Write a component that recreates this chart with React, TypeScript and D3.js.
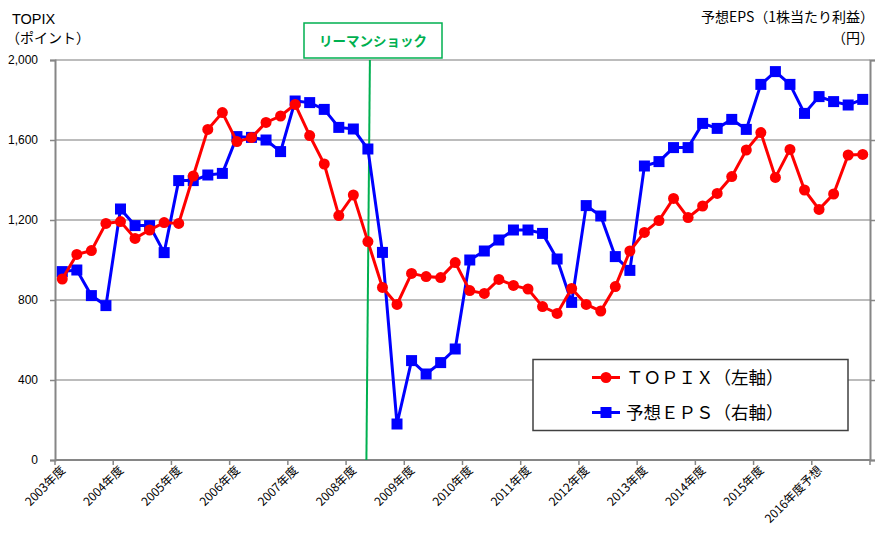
import React, { useRef, useEffect } from "react";
import * as d3 from "d3";

// quarterly values, FY2003 Q1 .. FY2016 Q4 (forecast)
const topix = [
  905, 1028, 1047, 1183, 1192, 1108, 1150, 1187, 1183, 1420, 1653, 1737, 1592, 1612, 1688, 1720,
  1778, 1622, 1480, 1222, 1325, 1092, 863, 778, 933, 917, 912, 987, 847, 833, 903, 873,
  855, 767, 733, 858, 778, 745, 867, 1045, 1138, 1197, 1308, 1212, 1270, 1333, 1417, 1550,
  1637, 1413, 1553, 1350, 1253, 1330, 1525, 1528,
];
const eps = [
  942, 950, 822, 772, 1255, 1172, 1172, 1037, 1397, 1397, 1425, 1433, 1617, 1613, 1600, 1542,
  1795, 1787, 1753, 1663, 1655, 1555, 1038, 180, 497, 430, 487, 555, 1000, 1045, 1100, 1150,
  1150, 1133, 1005, 788, 1272, 1220, 1017, 948, 1470, 1492, 1562, 1562, 1683, 1658, 1703, 1653,
  1878, 1942, 1878, 1733, 1817, 1792, 1775, 1803,
];
const yearLabels = [
  "2003年度", "2004年度", "2005年度", "2006年度", "2007年度", "2008年度", "2009年度",
  "2010年度", "2011年度", "2012年度", "2013年度", "2014年度", "2015年度", "2016年度予想",
];
const leftTicks = [0, 400, 800, 1200, 1600, 2000];
const lehmanIndex = 21;

const App = () => {
  const svgRef = useRef();

  useEffect(() => {
    const width = 880;
    const height = 538;
    const left = 55;
    const right = 870;
    const top = 60;
    const bottom = 460;
    const font = "'Liberation Sans', 'Noto Sans CJK JP', sans-serif";
    const jpFont = "'Noto Sans CJK JP', 'Liberation Sans', sans-serif";

    const svg = d3.select(svgRef.current);
    svg.selectAll("*").remove();
    svg.attr("width", width).attr("height", height);

    const x = d3.scaleBand().domain(d3.range(topix.length)).range([left, right]);
    const cx = (i) => x(i) + x.bandwidth() / 2;
    const y = d3.scaleLinear().domain([0, 2000]).range([bottom, top]);
    // right axis has no printed numbers in the source, kept on the same span
    const yr = d3.scaleLinear().domain([0, 2000]).range([bottom, top]);

    // gridlines
    svg.append("g")
      .selectAll("line")
      .data(leftTicks.filter((d) => d > 0))
      .join("line")
      .attr("x1", left)
      .attr("x2", right)
      .attr("y1", (d) => y(d))
      .attr("y2", (d) => y(d))
      .attr("stroke", "#a6a6a6")
      .attr("stroke-width", 1.5);

    // left axis
    const gl = svg.append("g")
      .attr("transform", `translate(${left},0)`)
      .call(d3.axisLeft(y).tickValues(leftTicks).tickSize(5).tickPadding(12).tickFormat(d3.format(",")));
    gl.select(".domain").attr("stroke", "#868686").attr("stroke-width", 2);
    gl.selectAll(".tick line").attr("stroke", "#868686").attr("stroke-width", 1.5);
    gl.selectAll("text").attr("font-family", font).attr("font-size", 12).attr("fill", "#000");

    // right axis (ticks only)
    const gr = svg.append("g")
      .attr("transform", `translate(${right},0)`)
      .call(d3.axisRight(yr).tickValues(leftTicks).tickSize(5).tickFormat(() => ""));
    gr.select(".domain").attr("stroke", "#868686").attr("stroke-width", 2);
    gr.selectAll(".tick line").attr("stroke", "#868686").attr("stroke-width", 1.5);

    // bottom axis
    const tickIdx = d3.range(0, topix.length + 1, 4);
    const tx = (i) => (i < topix.length ? x(i) : right);
    const gb = svg.append("g");
    gb.append("line")
      .attr("x1", left).attr("x2", right)
      .attr("y1", bottom).attr("y2", bottom)
      .attr("stroke", "#868686").attr("stroke-width", 2);
    gb.selectAll("line.t")
      .data(tickIdx)
      .join("line")
      .attr("class", "t")
      .attr("x1", (d) => tx(d)).attr("x2", (d) => tx(d))
      .attr("y1", bottom).attr("y2", bottom + 5)
      .attr("stroke", "#868686").attr("stroke-width", 1.5);
    gb.selectAll("text")
      .data(yearLabels)
      .join("text")
      .attr("transform", (d, i) => `translate(${tx(i * 4) + 11},${bottom + 11}) rotate(-45)`)
      .attr("text-anchor", "end")
      .attr("font-family", jpFont)
      .attr("font-size", 12)
      .attr("fill", "#000")
      .text((d) => d);

    // Lehman shock line + label
    const lx = cx(lehmanIndex);
    svg.append("line")
      .attr("x1", lx + 2).attr("y1", top)
      .attr("x2", lx - 1.5).attr("y2", bottom)
      .attr("stroke", "#00b050").attr("stroke-width", 2);
    svg.append("rect")
      .attr("x", 304).attr("y", 23).attr("width", 138).attr("height", 35)
      .attr("fill", "#fff").attr("stroke", "#00b050").attr("stroke-width", 1.5);
    svg.append("text")
      .attr("x", 373).attr("y", 46)
      .attr("text-anchor", "middle")
      .attr("font-family", jpFont).attr("font-weight", "bold").attr("font-size", 13.5)
      .attr("fill", "#00b050")
      .text("リーマンショック");

    // series
    const line = (scale) => d3.line().x((d, i) => cx(i)).y((d) => scale(d));

    svg.append("path")
      .datum(eps)
      .attr("d", line(yr))
      .attr("fill", "none").attr("stroke", "#0000ff").attr("stroke-width", 3);
    svg.append("g")
      .selectAll("rect")
      .data(eps)
      .join("rect")
      .attr("x", (d, i) => cx(i) - 5.5).attr("y", (d) => yr(d) - 5.5)
      .attr("width", 11).attr("height", 11)
      .attr("fill", "#0000ff");

    svg.append("path")
      .datum(topix)
      .attr("d", line(y))
      .attr("fill", "none").attr("stroke", "#ff0000").attr("stroke-width", 3);
    svg.append("g")
      .selectAll("circle")
      .data(topix)
      .join("circle")
      .attr("cx", (d, i) => cx(i)).attr("cy", (d) => y(d))
      .attr("r", 5.5)
      .attr("fill", "#ff0000");

    // legend
    const lg = svg.append("g");
    lg.append("rect")
      .attr("x", 533).attr("y", 359.5).attr("width", 315).attr("height", 71)
      .attr("fill", "#fff").attr("stroke", "#404040").attr("stroke-width", 1.5);
    const items = [
      { label: "ＴＯＰＩＸ（左軸）", color: "#ff0000", shape: "circle", y: 377.5 },
      { label: "予想ＥＰＳ（右軸）", color: "#0000ff", shape: "square", y: 412.5 },
    ];
    items.forEach((it) => {
      lg.append("line")
        .attr("x1", 592).attr("x2", 620).attr("y1", it.y).attr("y2", it.y)
        .attr("stroke", it.color).attr("stroke-width", 3);
      if (it.shape === "circle") {
        lg.append("circle").attr("cx", 606).attr("cy", it.y).attr("r", 5.5).attr("fill", it.color);
      } else {
        lg.append("rect").attr("x", 600.5).attr("y", it.y - 5.5).attr("width", 11).attr("height", 11).attr("fill", it.color);
      }
      lg.append("text")
        .attr("x", 626).attr("y", it.y + 6)
        .attr("font-family", jpFont).attr("font-size", 17.5)
        .attr("fill", "#000")
        .text(it.label);
    });

    // axis titles
    svg.append("text")
      .attr("x", 12).attr("y", 24)
      .attr("font-family", font).attr("font-size", 14.5).attr("fill", "#000")
      .text("TOPIX");
    svg.append("text")
      .attr("x", 6).attr("y", 43)
      .attr("font-family", jpFont).attr("font-size", 14).attr("fill", "#000")
      .text("（ポイント）");
    svg.append("text")
      .attr("x", 874).attr("y", 22)
      .attr("text-anchor", "end")
      .attr("font-family", jpFont).attr("font-size", 14).attr("fill", "#000")
      .text("予想EPS（1株当たり利益）");
    svg.append("text")
      .attr("x", 874).attr("y", 43)
      .attr("text-anchor", "end")
      .attr("font-family", jpFont).attr("font-size", 14).attr("fill", "#000")
      .text("（円）");
  }, []);

  return (
    <svg
      ref={svgRef}
      style={{ position: "absolute", left: 0, top: 0, display: "block", background: "#fff" }}
    />
  );
};

export default App;
